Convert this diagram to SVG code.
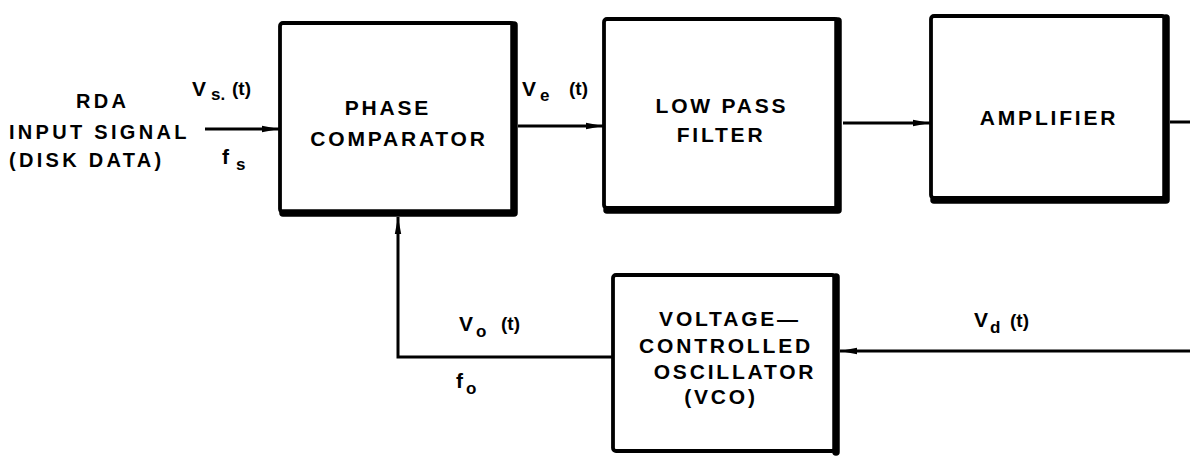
<svg xmlns="http://www.w3.org/2000/svg" width="1190" height="456" viewBox="0 0 1190 456">
<style>
.box{fill:#fff;stroke:#000;stroke-width:3.8;stroke-linejoin:round}
.shadow{fill:none;stroke:#000;stroke-width:7.5;stroke-linejoin:round;stroke-linecap:round}
.t{font-family:"Liberation Sans",Arial,sans-serif;font-weight:bold;font-size:21px;letter-spacing:2.8px;fill:#000;text-anchor:middle}
.l{font-family:"Liberation Sans",Arial,sans-serif;font-weight:bold;font-size:20px;letter-spacing:3.3px;fill:#000}
.s{font-family:"Liberation Sans",Arial,sans-serif;font-weight:bold;font-size:21px;fill:#000}
.p{font-family:"Liberation Sans",Arial,sans-serif;font-weight:bold;font-size:19px;fill:#000}
.sub{font-family:"Liberation Sans",Arial,sans-serif;font-weight:bold;font-size:17px;fill:#000}
.c{fill:none;stroke:#000;stroke-width:3}
</style>
<defs>
<marker id="arr" markerUnits="userSpaceOnUse" markerWidth="18" markerHeight="12" refX="17" refY="6" orient="auto">
<path d="M0,2.8 L17,6 L0,9.2 Z" fill="#000"/>
</marker>
</defs>

<g id="connectors">
<path class="c" d="M205,129 H279" marker-end="url(#arr)"/>
<path class="c" d="M518,126 H603" marker-end="url(#arr)"/>
<path class="c" d="M843,123 H930" marker-end="url(#arr)"/>
<path class="c" d="M1170,122 H1190"/>
<path class="c" d="M1190,351 H840" marker-end="url(#arr)"/>
<path class="c" d="M613,357 H398 V217" marker-end="url(#arr)"/>
</g>

<g id="phase-comparator">
<rect class="box" x="280" y="23" width="234" height="189" rx="3"/>
<path class="shadow" d="M514,25 V213 H283"/>
<text class="t" x="388" y="115">PHASE</text>
<text class="t" x="399" y="146">COMPARATOR</text>
</g>

<g id="low-pass-filter">
<rect class="box" x="604" y="19" width="234" height="189" rx="3"/>
<path class="shadow" d="M838,21 V210 H607"/>
<text class="t" x="722" y="113">LOW PASS</text>
<text class="t" x="721" y="142">FILTER</text>
</g>

<g id="amplifier">
<rect class="box" x="931" y="16" width="234" height="182" rx="3"/>
<path class="shadow" d="M1166,18 V200 H934"/>
<text class="t" x="1049" y="125">AMPLIFIER</text>
</g>

<g id="vco">
<rect class="box" x="613" y="275" width="222" height="176" rx="3"/>
<path class="shadow" d="M836,277 V452"/>
<text class="t" x="730" y="326">VOLTAGE—</text>
<text class="t" x="726" y="353">CONTROLLED</text>
<text class="t" x="735" y="379">OSCILLATOR</text>
<text class="t" x="721" y="404">(VCO)</text>
</g>

<g id="labels">
<text class="l" x="76" y="108">RDA</text>
<text class="l" x="9" y="139">INPUT SIGNAL</text>
<text class="l" x="9" y="167">(DISK DATA)</text>

<text class="s" x="192" y="96">V</text><text class="sub" x="211" y="100">s.</text><text class="p" x="232" y="95">(t)</text>
<text class="s" x="222" y="164">f</text><text class="sub" x="236" y="170">s</text>

<text class="s" x="522" y="96">V</text><text class="sub" x="540" y="101">e</text><text class="p" x="569" y="95">(t)</text>

<text class="s" x="459" y="331">V</text><text class="sub" x="476" y="337">o</text><text class="p" x="501" y="330">(t)</text>
<text class="s" x="456" y="388">f</text><text class="sub" x="466" y="394">o</text>

<text class="s" x="974" y="327">V</text><text class="sub" x="990" y="333">d</text><text class="p" x="1010" y="327">(t)</text>
</g>
</svg>
